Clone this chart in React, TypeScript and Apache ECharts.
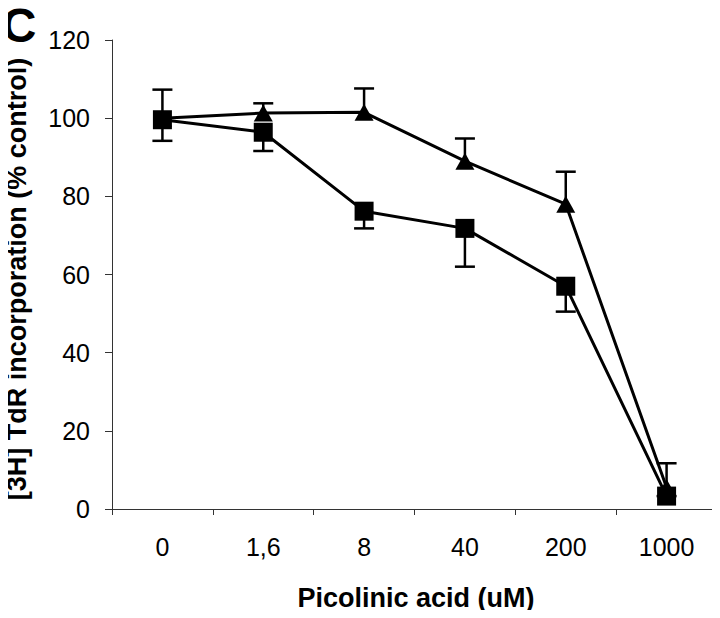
import React, { useEffect, useRef } from "react";
import * as echarts from "echarts";

const categories = ["0", "1,6", "8", "40", "200", "1000"];
const triangleValues = [100, 101.3, 101.5, 89, 78, 5.5];
const triangleErrUpper = [107.3, 103.8, 107.6, 94.8, 86.3, 11.7];
const squareValues = [99.6, 96.4, 76.2, 71.8, 57, 3.3];
const squareErrLower = [94.2, 91.6, 71.8, 62, 50.5, 3.3];

const FONT = '"Liberation Sans", Arial, Helvetica, sans-serif';

export default function App() {
  const ref = useRef<HTMLDivElement>(null);
  useEffect(() => {
    if (!ref.current) return;
    const chart = echarts.init(ref.current, null, { renderer: "svg" });
    const errData: any[] = [];
    categories.forEach((_, i) => {
      errData.push([i, triangleValues[i], triangleErrUpper[i]]);
      errData.push([i, squareErrLower[i], squareValues[i]]);
    });
    chart.setOption({
      animation: false,
      backgroundColor: "#ffffff",
      grid: { left: 112, top: 40, width: 605, height: 469, containLabel: false },
      xAxis: {
        type: "category",
        data: categories,
        boundaryGap: true,
        axisLine: { lineStyle: { color: "#333", width: 1 } },
        axisTick: { show: true, length: 6, inside: false, lineStyle: { color: "#333" } },
        axisLabel: { color: "#000", fontFamily: FONT, fontSize: 25, margin: 25 },
        splitLine: { show: false },
      },
      yAxis: {
        type: "value",
        min: 0,
        max: 120,
        interval: 20,
        axisLine: { show: true, lineStyle: { color: "#333", width: 1 } },
        axisTick: { show: true, length: 7, lineStyle: { color: "#333" } },
        axisLabel: { color: "#000", fontFamily: FONT, fontSize: 25, margin: 22 },
        splitLine: { show: false },
      },
      graphic: [
        {
          type: "text",
          x: 19,
          y: 25,
          style: {
            text: "C",
            fontFamily: FONT,
            fontWeight: "bold",
            fontSize: 48,
            fill: "#000",
            align: "center",
            verticalAlign: "middle",
          },
        },
        {
          type: "text",
          x: 17,
          y: 279,
          rotation: Math.PI / 2,
          style: {
            text: "[3H] TdR incorporation (% control)",
            fontFamily: FONT,
            fontWeight: "bold",
            fontSize: 27,
            fill: "#000",
            align: "center",
            verticalAlign: "middle",
          },
        },
        {
          type: "text",
          x: 416,
          y: 598,
          style: {
            text: "Picolinic acid (uM)",
            fontFamily: FONT,
            fontWeight: "bold",
            fontSize: 27,
            fill: "#000",
            align: "center",
            verticalAlign: "middle",
          },
        },
      ],
      series: [
        {
          type: "custom",
          name: "err",
          z: 1,
          data: errData,
          renderItem: (params: any, api: any) => {
            const x = api.value(0);
            const lo = api.coord([x, api.value(1)]);
            const hi = api.coord([x, api.value(2)]);
            const style = { stroke: "#000", lineWidth: 2.5 };
            const half = 10;
            const isUpper = params.dataIndex % 2 === 0;
            const capY = isUpper ? hi[1] : lo[1];
            return {
              type: "group",
              children: [
                { type: "line", shape: { x1: lo[0], y1: lo[1], x2: hi[0], y2: hi[1] }, style },
                { type: "line", shape: { x1: lo[0] - half, y1: capY, x2: lo[0] + half, y2: capY }, style },
              ],
            };
          },
        },
        {
          type: "line",
          name: "triangle",
          z: 2,
          data: triangleValues,
          symbol: "triangle",
          symbolSize: [19, 17],
          lineStyle: { color: "#000", width: 3 },
          itemStyle: { color: "#000" },
        },
        {
          type: "line",
          name: "square",
          z: 3,
          data: squareValues,
          symbol: "rect",
          symbolSize: 19,
          lineStyle: { color: "#000", width: 3 },
          itemStyle: { color: "#000" },
        },
      ],
    });
    return () => chart.dispose();
  }, []);
  return <div ref={ref} style={{ width: 720, height: 618, margin: -8 }} />;
}
